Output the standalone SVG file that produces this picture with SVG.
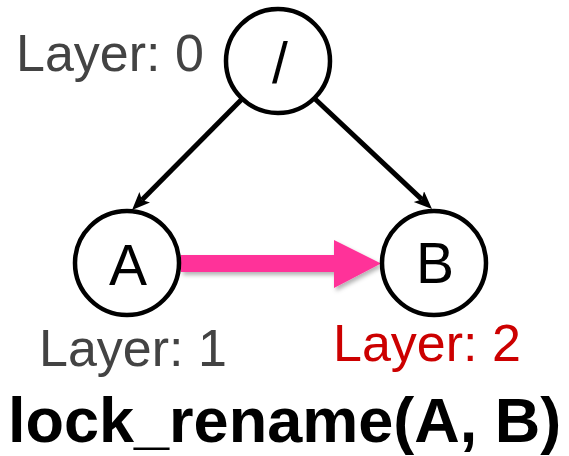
<svg xmlns="http://www.w3.org/2000/svg" width="569" height="456" viewBox="0 0 569 456">
  <style>
    .node circle { fill: #ffffff; stroke: #000000; stroke-width: 4.5; }
    .node text { font-family: "Liberation Sans", Arial, sans-serif; font-size: 57px; fill: #000000; text-anchor: middle; }
    .layer { font-family: "Liberation Sans", Arial, sans-serif; font-size: 52px; fill: #434343; }
    .layer.hot { fill: #cc0000; }
    .edge { stroke: #000000; stroke-width: 5; fill: none; marker-end: url(#head); }
    .title { font-family: "Liberation Sans", Arial, sans-serif; font-size: 63px; font-weight: bold; fill: #000000; }
  </style>
  <defs>
    <marker id="head" markerUnits="userSpaceOnUse" markerWidth="20" markerHeight="16" refX="4" refY="7.5" orient="auto">
      <path d="M0,0 L18,7.5 L0,15 L4,7.5 z" fill="#000000"/>
    </marker>
    <filter id="shadow" x="-10%" y="-30%" width="120%" height="170%">
      <feDropShadow dx="2" dy="3" stdDeviation="2" flood-color="#000000" flood-opacity="0.3"/>
    </filter>
  </defs>

  <!-- connectors -->
  <g id="connectors">
    <line class="edge" x1="242" y1="99" x2="141.9" y2="200.1"/>
    <line class="edge" x1="314" y1="98" x2="421.8" y2="199.4"/>
    <polygon id="rename-arrow" points="181,255 334,255 334,240 381,263.5 334,288 334,272 181,272" fill="#ff3399" filter="url(#shadow)"/>
  </g>

  <!-- nodes -->
  <g id="node-root" class="node">
    <circle cx="278" cy="61" r="52"/>
    <text x="280" y="83">/</text>
  </g>
  <g id="node-a" class="node">
    <circle cx="127" cy="263" r="52"/>
    <text x="128" y="285">A</text>
  </g>
  <g id="node-b" class="node">
    <circle cx="434" cy="263" r="52"/>
    <text x="435" y="283">B</text>
  </g>

  <!-- layer labels -->
  <text class="layer" x="16" y="71">Layer: 0</text>
  <text class="layer" x="39" y="366">Layer: 1</text>
  <text class="layer hot" x="333" y="361">Layer: 2</text>

  <!-- caption -->
  <text class="title" x="8" y="442">lock_rename(A, B)</text>
</svg>
